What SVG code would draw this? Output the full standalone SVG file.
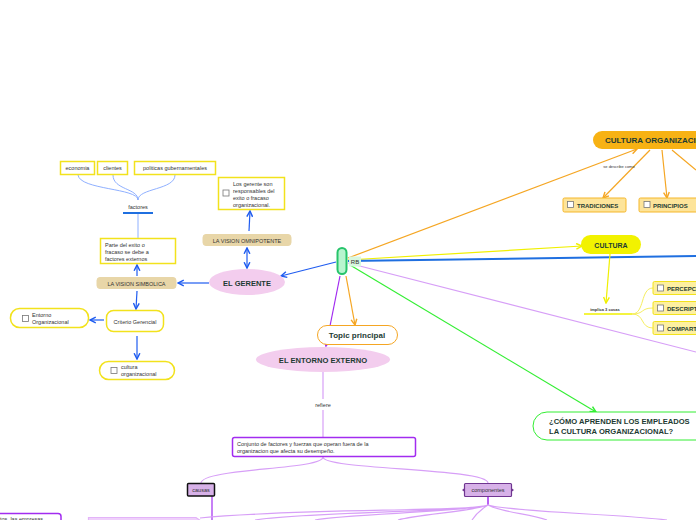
<svg xmlns="http://www.w3.org/2000/svg" width="696" height="520" viewBox="0 0 696 520">
<defs>
<style>
text{font-family:"Liberation Sans",Arial,sans-serif;fill:#333}
.b{font-weight:bold;fill:#1d3b33}
.t5{font-size:5.5px}
.t6{font-size:6px}
.t7{font-size:7px}
.t8{font-size:7.6px}
.ybox{fill:#fff;stroke:#f2e21c;stroke-width:1.5}
.tan{fill:#e8d6a8;stroke:#e8d6a8}
.pink{fill:#f3cdee}
.chk{fill:#fff;stroke:#777;stroke-width:0.8}
.blue{stroke:#1f5cf0;stroke-width:1.2;fill:none}
.lblue{stroke:#8fb0ff;stroke-width:1;fill:none}
.orange{stroke:#f5a623;stroke-width:1.2;fill:none}
.lav{stroke:#d79ff7;stroke-width:1.2;fill:none}
.purp{stroke:#a22cf0;stroke-width:1.2;fill:none}
</style>
<marker id="ab" viewBox="0 0 10 10" refX="9" refY="5" markerWidth="6" markerHeight="6" orient="auto"><path d="M1,1 L9,5 L1,9" fill="none" stroke="#1f5cf0" stroke-width="2"/></marker>
<marker id="abs" viewBox="0 0 10 10" refX="1" refY="5" markerWidth="6" markerHeight="6" orient="auto"><path d="M9,1 L1,5 L9,9" fill="none" stroke="#1f5cf0" stroke-width="2"/></marker>
<marker id="ao" viewBox="0 0 10 10" refX="9" refY="5" markerWidth="6" markerHeight="6" orient="auto"><path d="M1,1 L9,5 L1,9" fill="none" stroke="#f5a623" stroke-width="2"/></marker>
<marker id="ay" viewBox="0 0 10 10" refX="9" refY="5" markerWidth="6" markerHeight="6" orient="auto"><path d="M1,1 L9,5 L1,9" fill="none" stroke="#f0f000" stroke-width="2"/></marker>
<marker id="ag" viewBox="0 0 10 10" refX="9" refY="5" markerWidth="6" markerHeight="6" orient="auto"><path d="M1,1 L9,5 L1,9" fill="none" stroke="#33ee33" stroke-width="2"/></marker>
<marker id="ap" viewBox="0 0 10 10" refX="9" refY="5" markerWidth="6" markerHeight="6" orient="auto"><path d="M1,1 L9,5 L1,9" fill="none" stroke="#a22cf0" stroke-width="2"/></marker>
</defs>
<rect width="696" height="520" fill="#fff"/>

<g id="connectors">
<line x1="348" y1="258" x2="637" y2="149" class="orange" marker-end="url(#ao)"/>
<line x1="348" y1="260" x2="582" y2="246" stroke="#f0f000" stroke-width="1.2" marker-end="url(#ay)"/>
<line x1="348" y1="261" x2="696" y2="256" stroke="#1f6fe0" stroke-width="2"/>
<line x1="348" y1="263" x2="696" y2="352" class="lav"/>
<line x1="350" y1="265" x2="596" y2="412" stroke="#33ee33" stroke-width="1.2" marker-end="url(#ag)"/>
<line x1="346" y1="276" x2="355" y2="325" class="orange" marker-end="url(#ao)"/>
<line x1="340" y1="276" x2="326" y2="346" class="purp" marker-end="url(#ap)"/>
<line x1="336" y1="262" x2="281" y2="276" class="blue" marker-end="url(#ab)"/>
<line x1="650" y1="150" x2="603" y2="198" class="orange" marker-end="url(#ao)"/>
<line x1="662" y1="150" x2="667" y2="198" class="orange" marker-end="url(#ao)"/>
<line x1="672" y1="150" x2="696" y2="170" class="orange"/>
<line x1="610" y1="254" x2="606" y2="303" stroke="#f0f000" stroke-width="1.2" marker-end="url(#ay)"/>
<line x1="584" y1="314" x2="632" y2="314" stroke="#f0f000" stroke-width="1.5"/>
<path d="M632,314 C645,314 640,288 653,288 M632,314 C645,314 640,308 653,308 M632,314 C645,314 640,328 653,328" stroke="#f6ee60" stroke-width="1" fill="none"/>
<line x1="247" y1="248" x2="247" y2="268" class="blue" marker-start="url(#abs)" marker-end="url(#ab)"/>
<line x1="249" y1="231" x2="250" y2="211" class="blue" marker-end="url(#ab)"/>
<line x1="209" y1="283" x2="178" y2="283" class="blue" marker-end="url(#ab)"/>
<line x1="137" y1="276" x2="137" y2="265" class="blue" marker-end="url(#ab)"/>
<line x1="138" y1="238" x2="138" y2="214" class="lblue"/>
<path d="M138,200 C138,188 80,190 78,175 M138,200 C138,188 113,190 113,175 M138,200 C138,188 175,190 175,175" class="lblue"/>
<line x1="137" y1="291" x2="136" y2="309" class="blue" marker-end="url(#ab)"/>
<line x1="104" y1="320" x2="90" y2="320" class="blue" marker-end="url(#ab)"/>
<line x1="137" y1="336" x2="137" y2="359" class="blue" marker-end="url(#ab)"/>
<line x1="323" y1="372" x2="323" y2="399" class="lav"/>
<line x1="323" y1="410" x2="323" y2="437" class="lav"/>
<path d="M323,457 C323,470 202,468 201,483 M323,457 C323,470 487,468 488,483" class="lav"/>
<line x1="212" y1="496" x2="212" y2="520" class="purp"/>
<line x1="488" y1="497" x2="488" y2="505" stroke="#a22cf0" stroke-width="1.5"/>
<path d="M488,505 C470,512 300,508 200,518 M488,505 C470,512 300,512 255,520 M488,505 C470,512 340,514 315,520 M488,505 C470,512 420,514 398,520 M488,505 C480,510 476,514 472,520 M488,505 C500,512 530,514 547,520 M488,505 C510,512 620,514 667,520" class="lav"/>
</g>

<g id="center">
<rect x="337.5" y="248" width="9" height="26" rx="4.5" fill="#b8f5cf" stroke="#27c46b" stroke-width="2"/>
<rect x="349" y="256.5" width="12" height="10" fill="#d8f7df"/>
<text x="355" y="264" class="t6" text-anchor="middle">RB</text>
</g>

<g id="cultura-organizacional">
<rect x="593" y="131" width="130" height="18" rx="9" fill="#f7b214"/>
<text x="605" y="143" class="b" font-size="8px">CULTURA ORGANIZACIONAL</text>
<text x="619" y="168" font-size="4px" fill="#333" text-anchor="middle">se describe como</text>
</g>
<g id="tradiciones">
<rect x="563" y="198" width="63" height="14" rx="1.5" fill="#fde49a" stroke="#f5b72a" stroke-width="1"/>
<rect x="567.5" y="201.5" width="6" height="6" class="chk"/>
<text x="577" y="208" class="b t6" fill="#222">TRADICIONES</text>
</g>
<g id="principios">
<rect x="639" y="198" width="70" height="14" rx="1.5" fill="#fde49a" stroke="#f5b72a" stroke-width="1"/>
<rect x="644" y="201.5" width="6" height="6" class="chk"/>
<text x="653" y="208" class="b t6">PRINCIPIOS</text>
</g>
<g id="cultura">
<rect x="581" y="235" width="60" height="19" rx="9.5" fill="#f2f200"/>
<text x="611" y="247.5" class="b t7" text-anchor="middle" fill="#222">CULTURA</text>
<text x="605" y="310.5" font-size="4px" text-anchor="middle" font-weight="bold">implica 3 cosas</text>
</g>
<g id="percepcion">
<rect x="653" y="281.5" width="60" height="13" rx="1.5" fill="#fdf0a0" stroke="#f2e21c" stroke-width="1"/>
<rect x="657.5" y="285" width="6" height="6" class="chk"/>
<text x="667" y="291" class="b t6">PERCEPCIÓN</text>
</g>
<g id="descriptivo">
<rect x="653" y="301.5" width="60" height="13" rx="1.5" fill="#fdf0a0" stroke="#f2e21c" stroke-width="1"/>
<rect x="657.5" y="305" width="6" height="6" class="chk"/>
<text x="667" y="311" class="b t6">DESCRIPTIVO</text>
</g>
<g id="compartido">
<rect x="653" y="321.5" width="60" height="13" rx="1.5" fill="#fdf0a0" stroke="#f2e21c" stroke-width="1"/>
<rect x="657.5" y="325" width="6" height="6" class="chk"/>
<text x="667" y="331" class="b t6">COMPARTIDO</text>
</g>
<g id="como-aprenden">
<path d="M713,412 H547 A14,14 0 0 0 533,426 A14,14 0 0 0 547,440 H713" fill="#fff" stroke="#33ee33" stroke-width="1"/>
<text x="549" y="424" class="b t8">¿CÓMO APRENDEN LOS EMPLEADOS</text>
<text x="549" y="434" class="b t8">LA CULTURA ORGANIZACIONAL?</text>
</g>

<g id="el-gerente">
<ellipse cx="247" cy="282" rx="38" ry="13" class="pink"/>
<text x="247" y="286" class="b" font-size="7.5px" text-anchor="middle">EL GERENTE</text>
</g>
<g id="vision-omnipotente">
<rect x="203" y="234.5" width="88" height="11" rx="3" class="tan"/>
<text x="247" y="242.5" class="t5" text-anchor="middle">LA VISION OMNIPOTENTE</text>
</g>
<g id="gerentes-responsables">
<rect x="218.5" y="177.5" width="66" height="32" class="ybox"/>
<rect x="223" y="190" width="6" height="6" class="chk"/>
<text class="t5"><tspan x="233" y="186">Los gerente son</tspan><tspan x="233" y="193">responsables del</tspan><tspan x="233" y="200">exito o fracaso</tspan><tspan x="233" y="207">organizacional.</tspan></text>
</g>
<g id="vision-simbolica">
<rect x="97" y="277.5" width="79" height="11" rx="3" class="tan"/>
<text x="136.5" y="285.5" class="t5" text-anchor="middle">LA VISION SIMBOLICA</text>
</g>
<g id="parte-exito">
<rect x="100.5" y="238.5" width="75" height="25" class="ybox"/>
<text class="t5"><tspan x="105" y="247">Parte del exito o</tspan><tspan x="105" y="254">fracaso se debe a</tspan><tspan x="105" y="261">factores externos</tspan></text>
</g>
<g id="factores">
<text x="138" y="209" class="t5" text-anchor="middle">factores</text>
<line x1="123" y1="213" x2="153" y2="213" stroke="#1f6fe0" stroke-width="2"/>
</g>
<g id="economia">
<rect x="60.5" y="161.5" width="34" height="13" class="ybox" stroke-width="1.2"/>
<text x="77.5" y="170" class="t5" text-anchor="middle">economia</text>
</g>
<g id="clientes">
<rect x="97.5" y="161.5" width="30" height="13" class="ybox" stroke-width="1.2"/>
<text x="112.5" y="170" class="t5" text-anchor="middle">clientes</text>
</g>
<g id="politicas">
<rect x="134.5" y="161.5" width="81" height="13" class="ybox" stroke-width="1.2"/>
<text x="175" y="170" class="t5" text-anchor="middle">politicas gubernamentales</text>
</g>
<g id="criterio-gerencial">
<rect x="106.5" y="310.5" width="57" height="21" rx="7" class="ybox"/>
<text x="135" y="323.5" class="t5" text-anchor="middle">Criterio Gerencial</text>
</g>
<g id="entorno-organizacional">
<rect x="10.5" y="308.5" width="78" height="19" rx="9" class="ybox"/>
<rect x="22.5" y="315.5" width="6" height="6" class="chk"/>
<text class="t5"><tspan x="32" y="317">Entorno</tspan><tspan x="32" y="324">Organizacional</tspan></text>
</g>
<g id="cultura-organizacional-box">
<rect x="99.5" y="361.5" width="75" height="18" rx="9" class="ybox"/>
<rect x="111" y="367.5" width="6" height="6" class="chk"/>
<text class="t5"><tspan x="121" y="369">cultura</tspan><tspan x="121" y="376">organizacional</tspan></text>
</g>

<g id="topic-principal">
<rect x="317.5" y="325.5" width="80" height="19" rx="9.5" fill="#fff" stroke="#f5a623" stroke-width="1"/>
<text x="357" y="337.5" class="b" font-size="8px" text-anchor="middle">Topic principal</text>
</g>
<g id="entorno-externo">
<ellipse cx="323" cy="359.5" rx="67" ry="12.5" class="pink"/>
<text x="323" y="362.5" class="b t8" text-anchor="middle">EL ENTORNO EXTERNO</text>
</g>
<g id="refiere">
<text x="323" y="407" class="t5" text-anchor="middle">refiere</text>
</g>
<g id="conjunto">
<rect x="232.5" y="437.5" width="183" height="19" rx="2" fill="#fff" stroke="#a22cf0" stroke-width="1.5"/>
<text class="t5"><tspan x="237" y="446">Conjunto de factores y fuerzas que operan fuera de la</tspan><tspan x="237" y="453">organizacion que afecta su desempeño.</tspan></text>
</g>
<g id="causas">
<rect x="187.5" y="483.5" width="27" height="12.5" rx="1" fill="#d7b1e8" stroke="#111" stroke-width="1.5"/>
<text x="201" y="492" class="t5" text-anchor="middle">causas</text>
</g>
<g id="componentes">
<rect x="464.5" y="483.5" width="47" height="13" rx="1" fill="#d7b1e8" stroke="#6f3590" stroke-width="1.2"/>
<path d="M462,490 L464,488.5 L464,491.5 Z M514,490 L512,488.5 L512,491.5 Z" fill="#6f3590"/>
<text x="488" y="492" class="t5" text-anchor="middle">componentes</text>
</g>
<g id="empresas">
<rect x="-20" y="513.5" width="81" height="20" rx="3" fill="#fff" stroke="#a22cf0" stroke-width="1.5"/>
<text x="0" y="521" class="t5">tos,  las empresas</text>
</g>
<g id="lavender-box">
<path d="M88.5,517.5 H196 L201,521 V530 H88.5 Z" fill="#efd0fb" stroke="#e3b4f8" stroke-width="1.2"/>
</g>
</svg>
